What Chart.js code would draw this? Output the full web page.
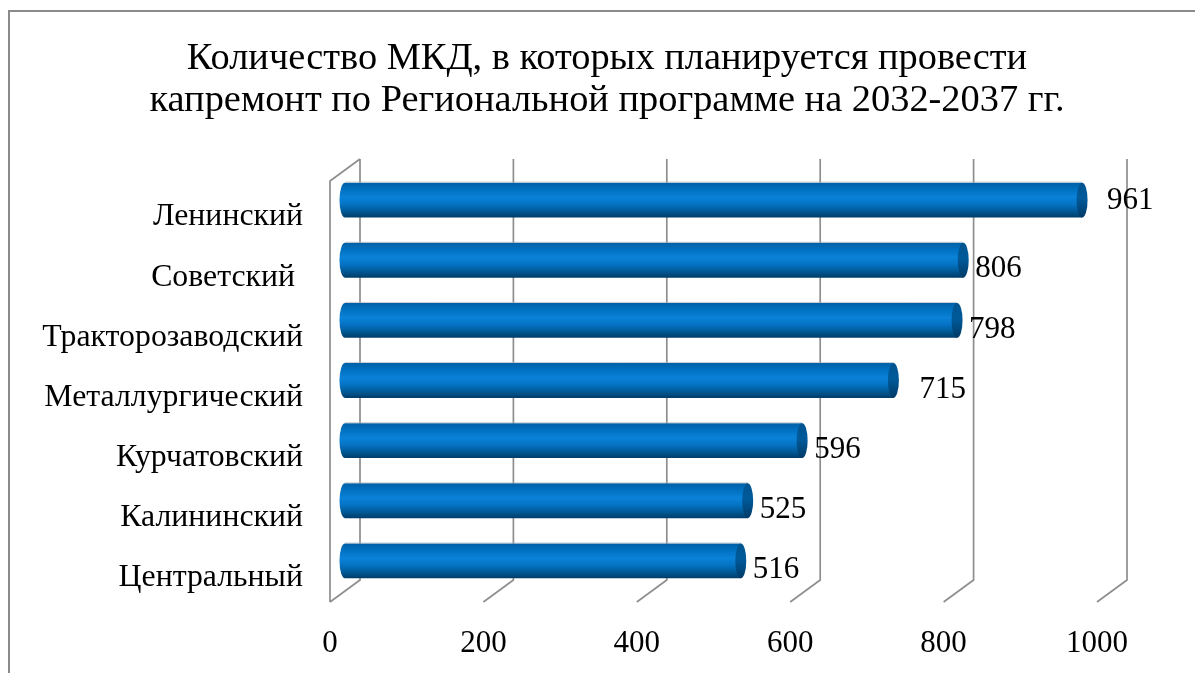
<!DOCTYPE html>
<html>
<head>
<meta charset="utf-8">
<script src="https://cdn.jsdelivr.net/npm/chart.js@4/dist/chart.umd.min.js"></script>
<style>
html,body{margin:0;padding:0;background:#fff;}
#wrap{width:1195px;height:673px;position:relative;}
</style>
</head>
<body>
<div id="wrap"><canvas id="c" width="1195" height="673"></canvas></div>
<script>
const titleLines = ['Количество МКД, в которых планируется провести', 'капремонт по Региональной программе на 2032-2037 гг.'];
const categories = ['Ленинский', 'Советский ', 'Тракторозаводский', 'Металлургический', 'Курчатовский', 'Калининский', 'Центральный'];
const values = [961, 806, 798, 715, 596, 525, 516];
const axisMin = 0;
const axisMax = 1000;
const axisStep = 200;

// small manual nudges of the value labels, as in the original (style only)
const labelNudgeX = [13, 0, 0, 14, 0, 0, 0];
const labelNudgeY = [-8, 0, 0, 0, 0, 0, 0];

const FONT = '"Liberation Serif", "Times New Roman", serif';
const DX = 15, DY = 11;           // half depth of the 3D box
const BAR_PCT = 0.58;
const GRID = '#8e8e8e';

function barGradient(ctx, yc, h) {
  const g = ctx.createLinearGradient(0, yc - h / 2, 0, yc + h / 2);
  g.addColorStop(0, '#0060a6');
  g.addColorStop(0.18, '#006fbf');
  g.addColorStop(0.42, '#0a82d8');
  g.addColorStop(0.62, '#0573c4');
  g.addColorStop(0.85, '#00558f');
  g.addColorStop(1, '#003c68');
  return g;
}
function capGradient(ctx, yc, h) {
  const g = ctx.createLinearGradient(0, yc - h / 2, 0, yc + h / 2);
  g.addColorStop(0, '#00548f');
  g.addColorStop(0.45, '#005a9a');
  g.addColorStop(1, '#003a66');
  return g;
}

const frame = {
  id: 'frame',
  beforeDraw(chart) {
    const c = chart.ctx;
    c.save();
    c.fillStyle = '#fff';
    c.fillRect(0, 0, chart.width, chart.height);
    c.strokeStyle = '#8a8a8a';
    c.lineWidth = 2;
    c.strokeRect(9, 11, chart.width + 20, chart.height + 20);
    c.restore();
  },
  beforeDatasetsDraw(chart) {
    const c = chart.ctx, a = chart.chartArea, xs = chart.scales.x;
    c.save();
    c.strokeStyle = GRID;
    c.lineWidth = 1.7;
    c.lineCap = 'butt';
    xs.ticks.forEach((t, i) => {
      const px = xs.getPixelForValue(t.value);
      c.beginPath();
      if (i === 0) {
        c.moveTo(px - DX, a.bottom + DY);
        c.lineTo(px - DX, a.top + DY);
        c.lineTo(px + DX, a.top - DY);
        c.moveTo(px + DX, a.top - DY);
      } else {
        c.moveTo(px + DX, a.top - DY);
      }
      c.lineTo(px + DX, a.bottom - DY);
      c.lineTo(px - DX, a.bottom + DY);
      c.stroke();
    });
    c.restore();
  },
  afterDatasetsDraw(chart) {
    const c = chart.ctx;
    const meta = chart.getDatasetMeta(0);
    c.save();
    meta.data.forEach((el, i) => {
      const h = el.height, yc = el.y, rx = 5.5;
      // left rounded end
      c.beginPath();
      c.ellipse(el.base, yc, rx, h / 2, 0, Math.PI / 2, Math.PI * 1.5);
      c.closePath();
      c.fillStyle = barGradient(c, yc, h);
      c.fill();
      // thin light edge on top
      c.strokeStyle = 'rgba(170,180,190,0.7)';
      c.lineWidth = 1;
      c.beginPath();
      c.moveTo(el.base, yc - h / 2 - 0.5);
      c.lineTo(el.x, yc - h / 2 - 0.5);
      c.stroke();
      // right cap
      c.beginPath();
      c.ellipse(el.x, yc, rx, h / 2, 0, 0, Math.PI * 2);
      c.fillStyle = capGradient(c, yc, h);
      c.fill();
      // value label
      c.fillStyle = '#000';
      c.font = '31px ' + FONT;
      c.textAlign = 'left';
      c.textBaseline = 'middle';
      c.fillText(String(values[i]), el.x + 12 + labelNudgeX[i], yc + 9 + labelNudgeY[i]);
    });
    c.restore();
  }
};

new Chart(document.getElementById('c'), {
  type: 'bar',
  data: {
    labels: categories,
    datasets: [{
      data: values,
      yAxisID: 'y',
      backgroundColor(ctx) {
        const chart = ctx.chart;
        if (!chart.chartArea || !chart.scales.y) return '#0a78cc';
        const yc = chart.scales.y.getPixelForValue(ctx.dataIndex);
        const h = chart.chartArea.height / categories.length * BAR_PCT;
        return barGradient(chart.ctx, yc, h);
      },
      borderWidth: 0,
      barPercentage: BAR_PCT,
      categoryPercentage: 1
    }]
  },
  options: {
    indexAxis: 'y',
    responsive: false,
    animation: false,
    devicePixelRatio: 1,
    layout: { padding: { left: 19, right: 0, top: 0, bottom: 0 } },
    plugins: {
      legend: { display: false },
      tooltip: { enabled: false },
      title: {
        display: true,
        text: titleLines,
        color: '#000',
        font: { family: FONT, size: 38.4, weight: 'normal', lineHeight: 1.094 },
        padding: { top: 38, bottom: 48 }
      }
    },
    scales: {
      x: {
        min: axisMin, max: axisMax,
        ticks: {
          stepSize: axisStep, color: '#000', font: { family: FONT, size: 31 },
          labelOffset: -DX, padding: 34, maxRotation: 0,
          callback: (v) => String(v)
        },
        grid: { display: false, drawTicks: false },
        border: { display: false },
        afterFit(s) { s.height = 82; }
      },
      y: {
        position: 'left',
        ticks: { color: '#000', font: { family: FONT, size: 31.8 }, labelOffset: 17, padding: 42, autoSkip: false },
        grid: { display: false, drawTicks: false },
        border: { display: false },
        afterFit(s) { s.width = 326; }
      },
      yRight: {
        type: 'category',
        position: 'right',
        display: true,
        ticks: { display: false },
        grid: { display: false, drawTicks: false },
        border: { display: false },
        afterFit(s) { s.width = 83; }
      }
    }
  },
  plugins: [frame]
});
</script>
</body>
</html>
